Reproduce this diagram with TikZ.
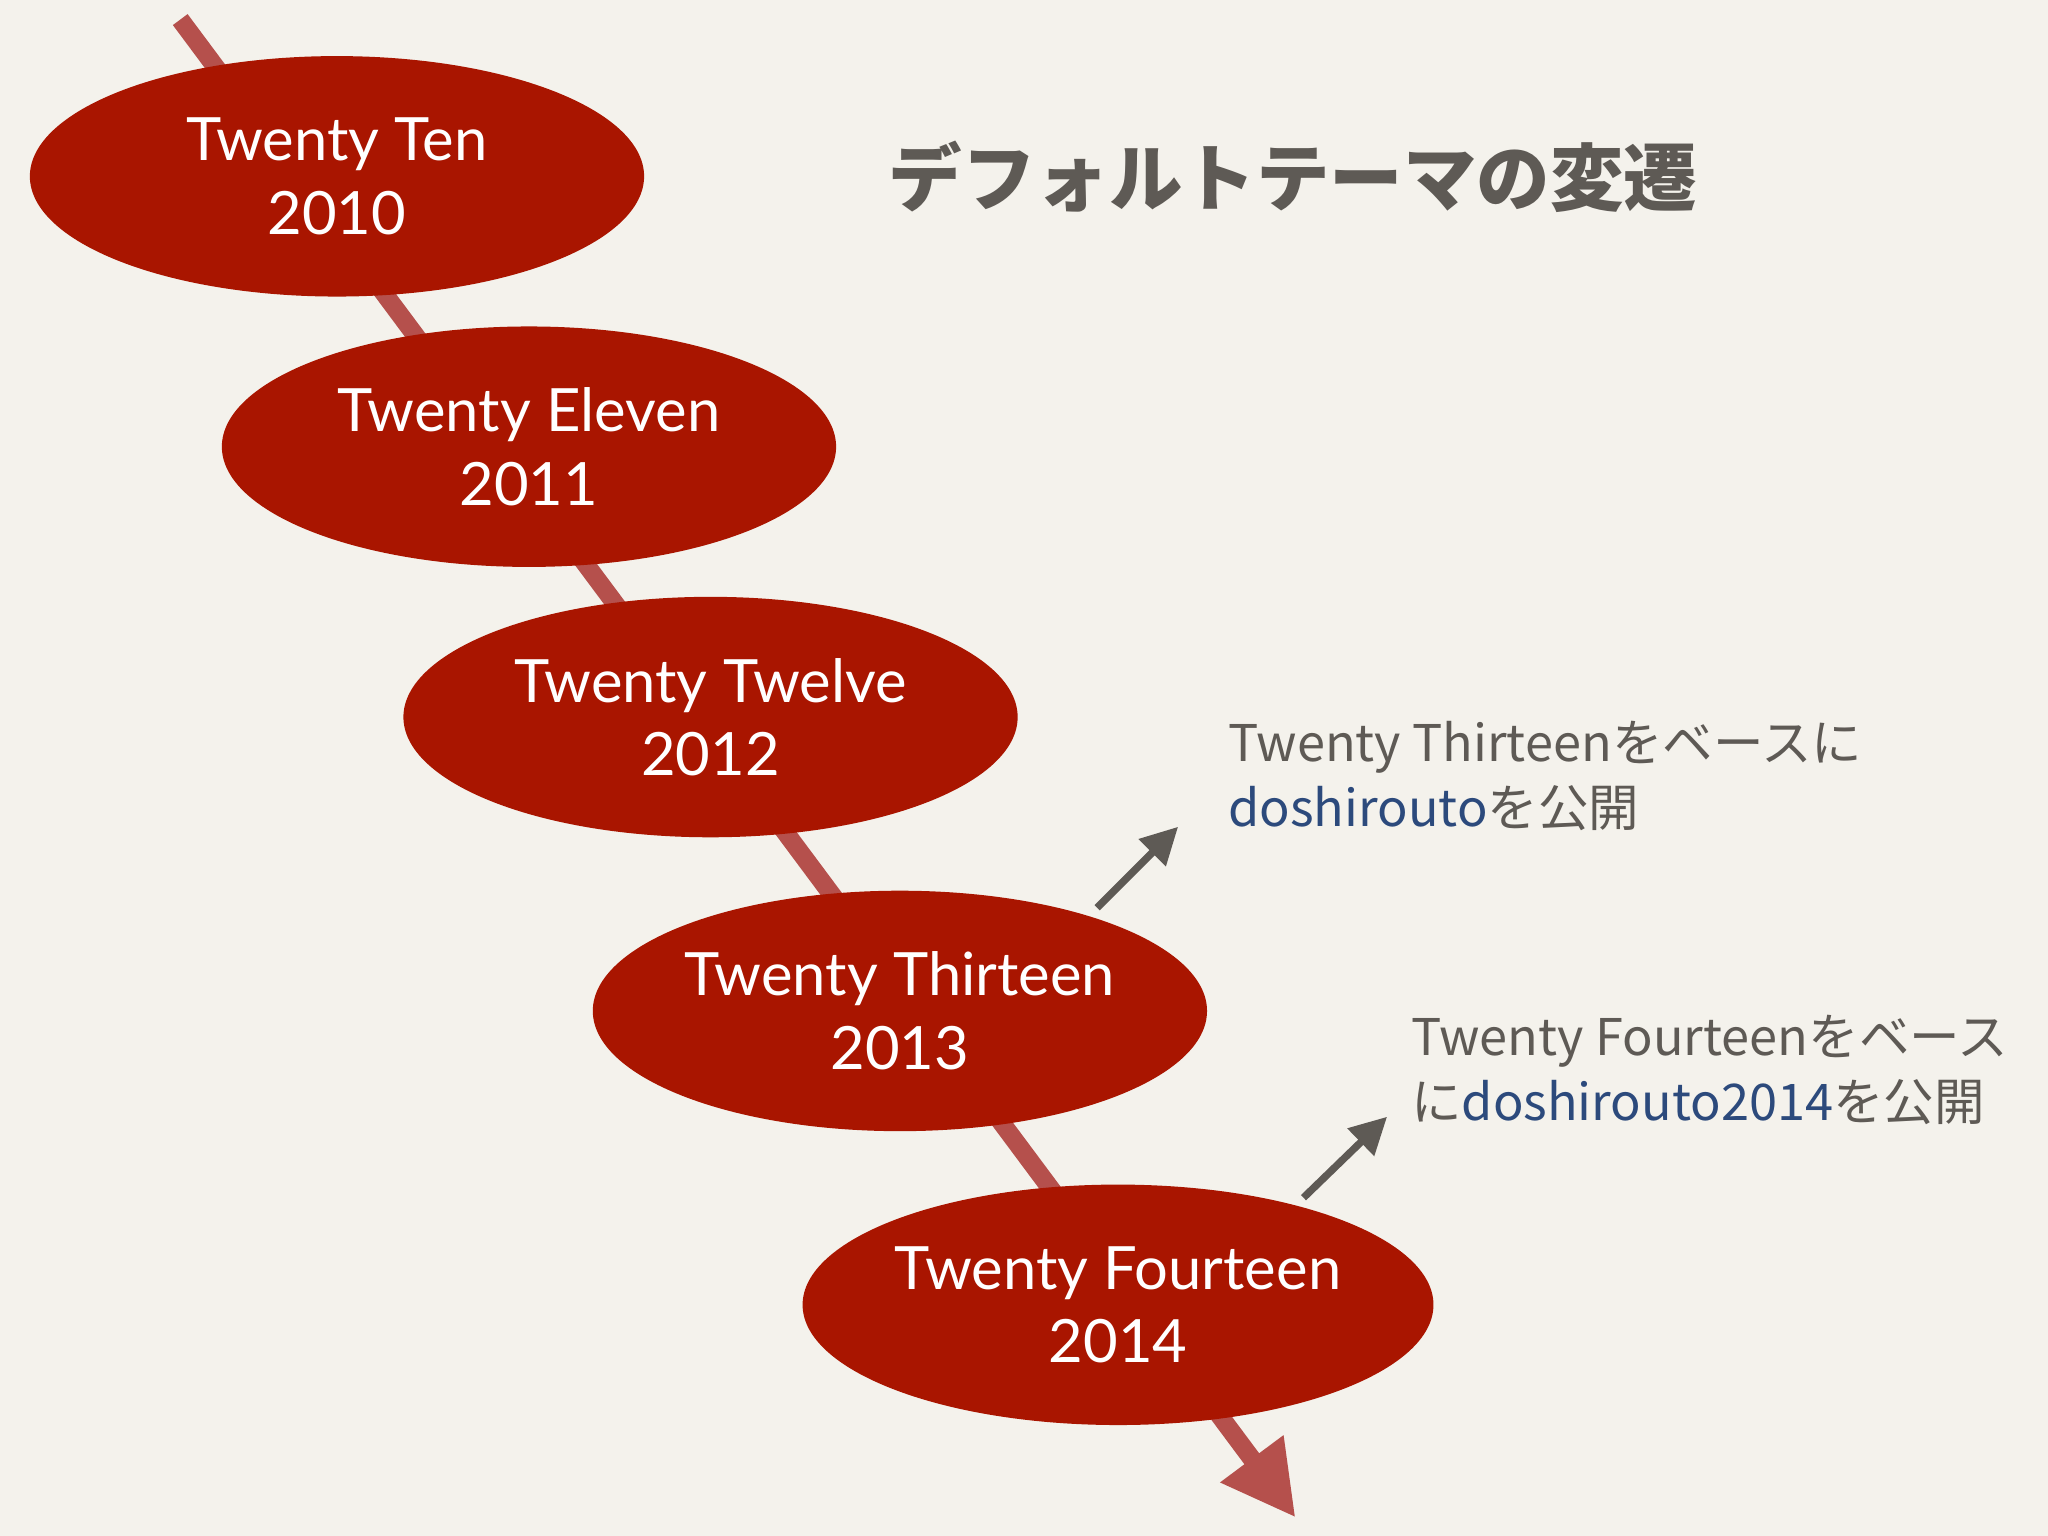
\documentclass[tikz,border=0pt]{standalone}
\usepackage{fontspec}
\setmainfont{Lato}
\newfontfamily\cjk{Noto Sans CJK JP}
\usetikzlibrary{arrows.meta,shapes.geometric}
\definecolor{bg}{HTML}{F4F2EC}
\definecolor{ell}{HTML}{A91500}
\definecolor{tl}{HTML}{B5504C}
\definecolor{gr}{HTML}{5E5A55}
\definecolor{bl}{HTML}{2C4A7C}
\begin{document}
\begin{tikzpicture}[x=0.01cm,y=-0.01cm,
  era/.style={ellipse,fill=ell,minimum width=4.7cm,minimum height=1.84cm,inner sep=0,text=white,align=center,font=\fontsize{13}{16}\selectfont},
  note/.style={anchor=north west,align=left,text=gr,font=\cjk\fontsize{11}{14}\selectfont},
  garrow/.style={draw=gr,line width=1.6pt,-{Triangle[length=8pt,width=8pt]}}]
\fill[bg] (0,0) rectangle (1568,1176);
\useasboundingbox (0,0) rectangle (1568,1176);
\coordinate (s) at (138,15);
\coordinate (e) at (992,1162);
\draw[tl,line width=4pt,-{Triangle[length=16pt,width=16pt]}] (s) -- (e);
\node[era] (a) at (258,135) {Twenty Ten\\2010};
\node[era] (b) at (405,342) {Twenty Eleven\\2011};
\node[era] (c) at (544,549) {Twenty Twelve\\2012};
\node[era] (d) at (689,774) {Twenty Thirteen\\2013};
\node[era] (f) at (856,999) {Twenty Fourteen\\2014};
\node[text=gr,font=\cjk\bfseries\fontsize{16}{20}\selectfont] (t) at (990,135) {デフォルトテーマの変遷};
\node[note] (n1) at (928,540) {Twenty Thirteenをベースに\\\textcolor{bl}{doshirouto}を公開};
\node[note] (n2) at (1068,765) {Twenty Fourteenをベース\\に\textcolor{bl}{doshirouto2014}を公開};
\coordinate (a1s) at (840,695); \coordinate (a1e) at (902,633);
\coordinate (a2s) at (998,917); \coordinate (a2e) at (1062,855);
\draw[garrow] (a1s) -- (a1e);
\draw[garrow] (a2s) -- (a2e);
\end{tikzpicture}
\end{document}
